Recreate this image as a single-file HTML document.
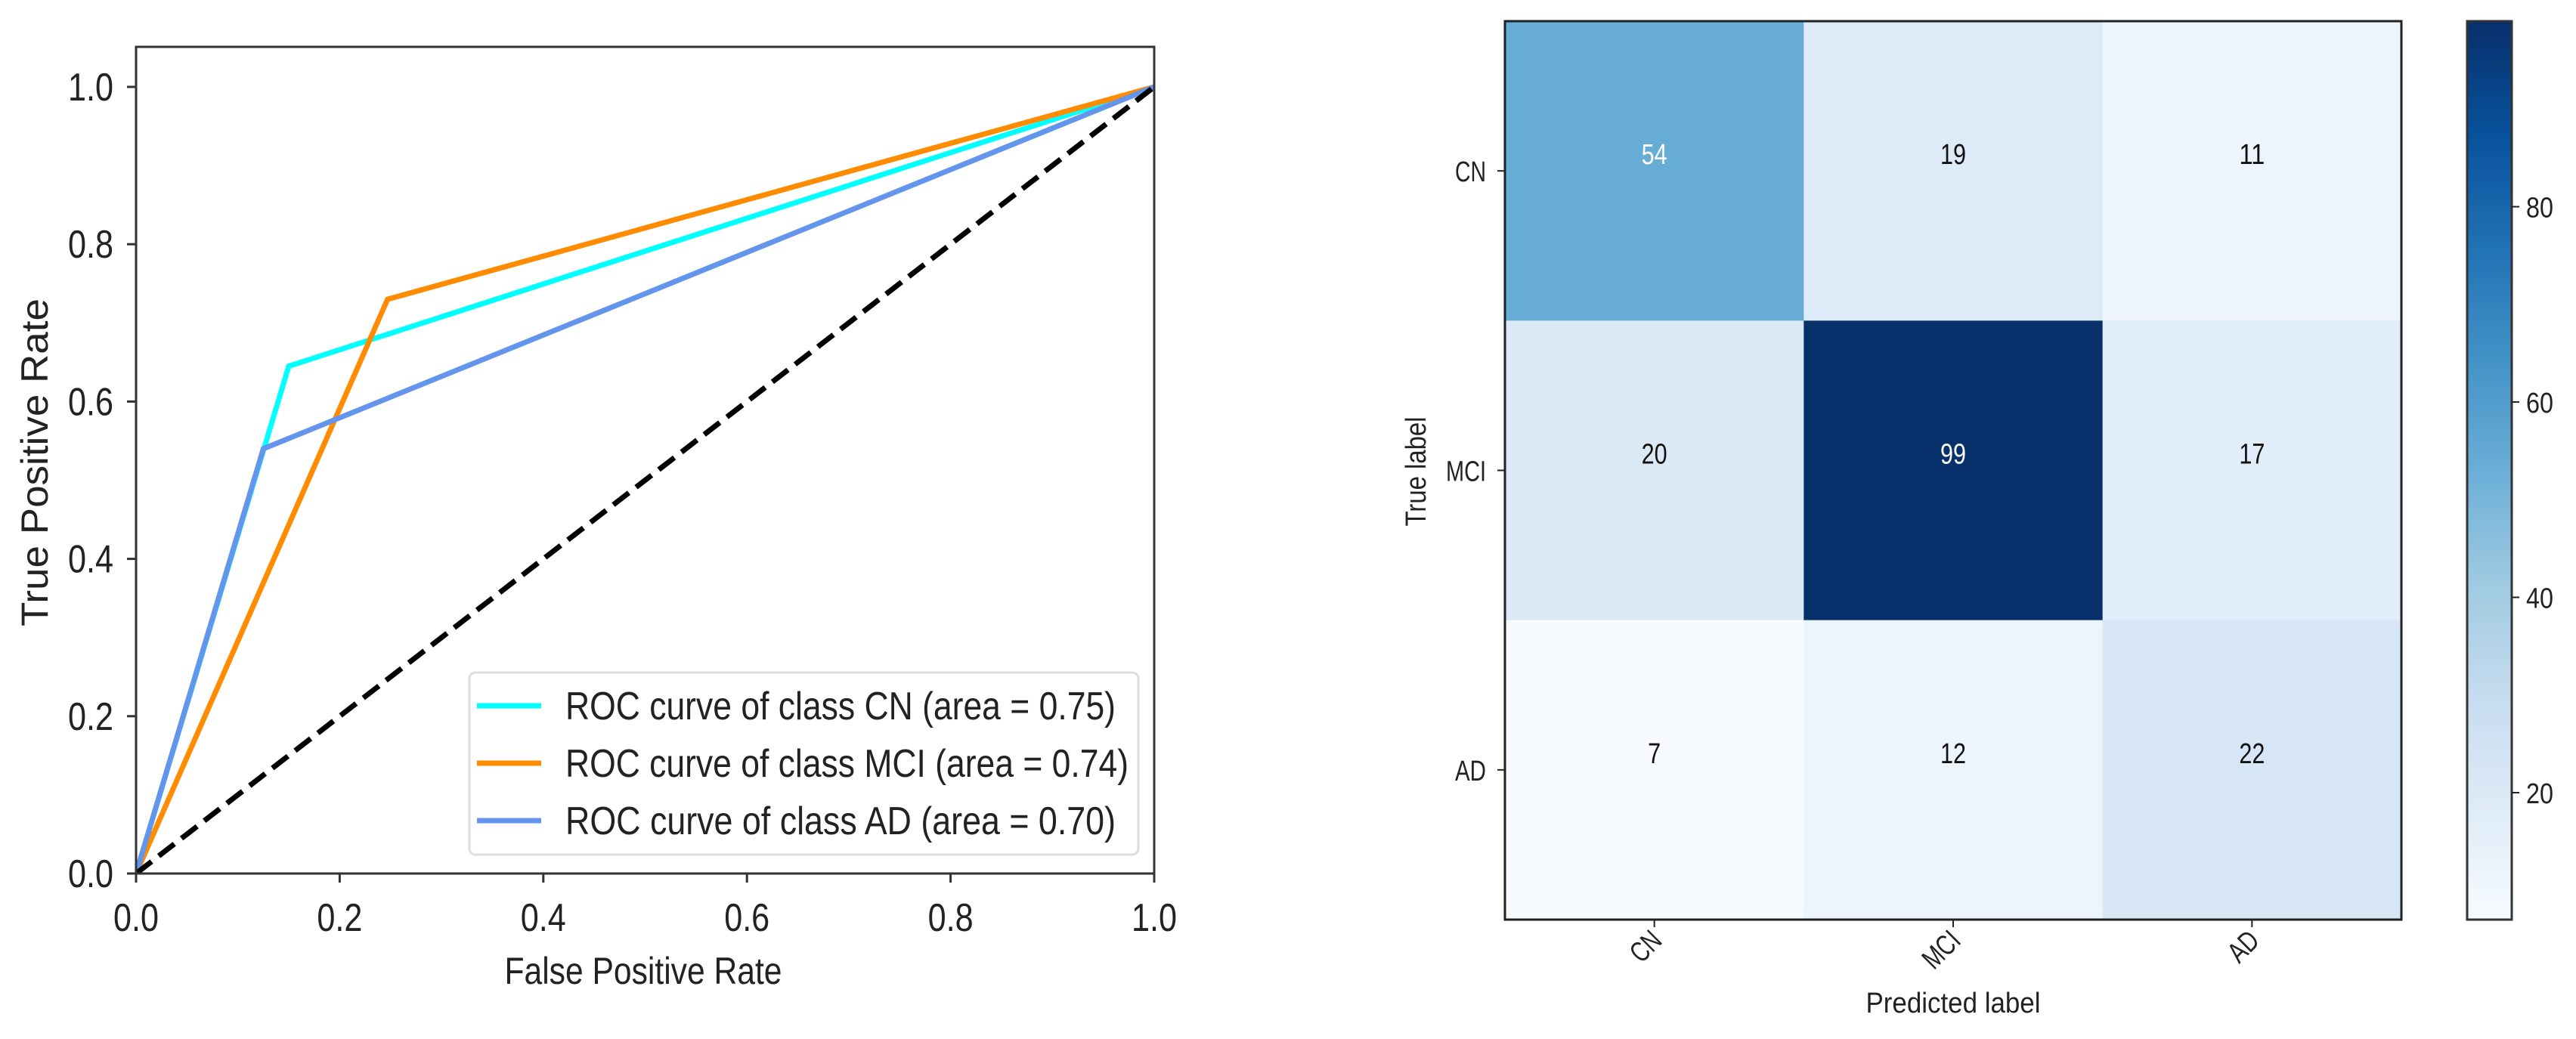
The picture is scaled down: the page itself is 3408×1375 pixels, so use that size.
<!DOCTYPE html>
<html><head><meta charset="utf-8"><style>
html,body{margin:0;padding:0;background:#fff;}
svg{display:block;font-family:"Liberation Sans",sans-serif;}
</style></head><body>
<svg id="fig" width="3408" height="1375" viewBox="0 0 3408 1375" xmlns="http://www.w3.org/2000/svg">
<defs>
<linearGradient id="blues" x1="0" y1="1" x2="0" y2="0">
<stop offset="0" stop-color="#f7fbff"/><stop offset="0.125" stop-color="#deebf7"/><stop offset="0.25" stop-color="#c6dbef"/><stop offset="0.375" stop-color="#9ecae1"/><stop offset="0.5" stop-color="#6baed6"/><stop offset="0.625" stop-color="#4292c6"/><stop offset="0.75" stop-color="#2171b5"/><stop offset="0.875" stop-color="#08519c"/><stop offset="1" stop-color="#08306b"/>
</linearGradient>
<clipPath id="rocclip"><rect x="180" y="62" width="1347" height="1094"/></clipPath>
</defs>
<g id="roc"></g>
<g id="cm"></g>
</svg>
<script>
const rocClasses = ["CN","MCI","AD"];
const rocAreas = ["0.75","0.74","0.70"];
const rocFpr = [[0,0.15,1],[0,0.247,1],[0,0.125,1]];
const rocTpr = [[0,0.645,1],[0,0.73,1],[0,0.54,1]];
const rocColors = ["#00ffff","#ff8c00","#6495ed"];
const rocTicks = [0,0.2,0.4,0.6,0.8,1.0];
const rocTickLabels = ["0.0","0.2","0.4","0.6","0.8","1.0"];

const cmLabels = ["CN","MCI","AD"];
const cmValues = [[54,19,11],[20,99,17],[7,12,22]];
const cbTicks = [20,40,60,80];

const NS="http://www.w3.org/2000/svg";
function mk(tag,attrs,parent){const e=document.createElementNS(NS,tag);for(const k in attrs)e.setAttribute(k,attrs[k]);parent.appendChild(e);return e;}

// ROC
const roc=document.getElementById('roc');
const X0=180,X1=1527,Y0=1156,YS=1041;
const sx=v=>X0+v*(X1-X0);
const sy=v=>Y0-v*YS;
const lineG=mk('g',{'clip-path':'url(#rocclip)'},roc);
rocClasses.forEach((c,i)=>{
  const pts=rocFpr[i].map((f,j)=>sx(f)+','+sy(rocTpr[i][j])).join(' ');
  const pl=mk('polyline',{points:pts,fill:'none',stroke:rocColors[i],'stroke-width':7},lineG);
  
  
});
const diag=mk('line',{x1:sx(0),y1:sy(0),x2:sx(1),y2:sy(1),stroke:'#000','stroke-width':7,'stroke-dasharray':'26,12'},lineG);


const frame=mk('rect',{x:X0,y:62,width:X1-X0,height:Y0-62,fill:'none',stroke:'#333','stroke-width':3},roc);


rocTicks.forEach((t,i)=>{
  mk('line',{x1:sx(t),y1:Y0,x2:sx(t),y2:Y0+12,stroke:'#333','stroke-width':3},roc);
  const xl=mk('text',{x:sx(t),y:1232,'font-size':52,'text-anchor':'middle',fill:'#222',textLength:60,lengthAdjust:'spacingAndGlyphs'},roc);
  xl.textContent=rocTickLabels[i];
  
  
  mk('line',{x1:X0-12,y1:sy(t),x2:X0,y2:sy(t),stroke:'#333','stroke-width':3},roc);
  const yl=mk('text',{x:150,y:sy(t)+18,'font-size':52,'text-anchor':'end',fill:'#222',textLength:60,lengthAdjust:'spacingAndGlyphs'},roc);
  yl.textContent=rocTickLabels[i];
  
  
});
const xt=mk('text',{x:851,y:1302,'font-size':50,'text-anchor':'middle',fill:'#222',textLength:367,lengthAdjust:'spacingAndGlyphs'},roc);
xt.textContent='False Positive Rate';


const yt=mk('text',{x:0,y:0,'font-size':50,'text-anchor':'middle',fill:'#222',textLength:434,lengthAdjust:'spacingAndGlyphs',transform:'translate(63,612) rotate(-90)'},roc);
yt.textContent='True Positive Rate';


const leg=mk('g',{},roc);


mk('rect',{x:621,y:890,width:885,height:241,rx:8,fill:'#fff','fill-opacity':0.85,stroke:'#ddd','stroke-width':3},leg);
rocClasses.forEach((c,i)=>{
  const y=934+i*76;
  const e=mk('g',{},leg);
  
  
  mk('line',{x1:631,y1:y,x2:716,y2:y,stroke:rocColors[i],'stroke-width':7},e);
  const t=mk('text',{x:748,y:y+18,'font-size':52,fill:'#222',lengthAdjust:'spacingAndGlyphs',textLength:c==='MCI'?745:728},e);
  t.textContent='ROC curve of class '+c+' (area = '+rocAreas[i]+')';
});

// Confusion matrix
const cm=document.getElementById('cm');
const L=1991,T=28,R=3177,B=1217;
const cw=(R-L)/3,ch=(B-T)/3;
const vmin=7,vmax=99;
const stops=["#f7fbff","#deebf7","#c6dbef","#9ecae1","#6baed6","#4292c6","#2171b5","#08519c","#08306b"];
function hex(h){return [1,3,5].map(i=>parseInt(h.substr(i,2),16));}
function blues(v){let t=(v-vmin)/(vmax-vmin);t=Math.max(0,Math.min(1,t));const p=t*8;const i=Math.min(7,Math.floor(p));const f=p-i;const a=hex(stops[i]),b=hex(stops[i+1]);return 'rgb('+a.map((x,k)=>Math.round(x+(b[k]-x)*f)).join(',')+')';}
cmValues.forEach((row,r)=>row.forEach((v,c)=>{
  const cell=mk('rect',{x:L+c*cw,y:T+r*ch,width:cw+0.5,height:ch+0.5,fill:blues(v)},cm);
  
  
}));
cmValues.forEach((row,r)=>row.forEach((v,c)=>{
  const s=String(v);
  const t=mk('text',{x:L+(c+0.5)*cw,y:T+(r+0.5)*ch-9,'font-size':38,'text-anchor':'middle',fill:v>vmax/2?'#fff':'#111',textLength:s.length*17,lengthAdjust:'spacingAndGlyphs'},cm);
  t.textContent=s;
  
  
}));
const cmf=mk('rect',{x:L,y:T,width:R-L,height:B-T,fill:'none',stroke:'#222','stroke-width':3},cm);


cmLabels.forEach((lab,i)=>{
  const cy=T+(i+0.5)*ch, cx=L+(i+0.5)*cw;
  const tl=lab==='MCI'?53:41;
  mk('line',{x1:L-10,y1:cy,x2:L,y2:cy,stroke:'#222','stroke-width':2},cm);
  const yl=mk('text',{x:1966,y:cy+14,'font-size':38,'text-anchor':'end',fill:'#222',textLength:tl,lengthAdjust:'spacingAndGlyphs'},cm);
  yl.textContent=lab;
  
  
  mk('line',{x1:cx,y1:B,x2:cx,y2:B+10,stroke:'#222','stroke-width':2},cm);
  const xl=mk('text',{x:0,y:0,'font-size':38,'text-anchor':'end',fill:'#222',textLength:tl,lengthAdjust:'spacingAndGlyphs',transform:'translate('+(cx+12)+','+(B+30)+') rotate(-45)'},cm);
  xl.textContent=lab;
  
  
});
const px=mk('text',{x:2584,y:1340,'font-size':38,'text-anchor':'middle',fill:'#222',textLength:231,lengthAdjust:'spacingAndGlyphs'},cm);
px.textContent='Predicted label';


const py=mk('text',{x:0,y:0,'font-size':38,'text-anchor':'middle',fill:'#222',textLength:145,lengthAdjust:'spacingAndGlyphs',transform:'translate(1886,624) rotate(-90)'},cm);
py.textContent='True label';


// colorbar
const CB0=3264,CB1=3323;
const cb=mk('rect',{x:CB0,y:T,width:CB1-CB0,height:B-T,fill:'url(#blues)',stroke:'#333','stroke-width':3},cm);


const cby=v=>B-(v-vmin)/(vmax-vmin)*(B-T);
cbTicks.forEach(t=>{
  mk('line',{x1:CB1,y1:cby(t),x2:CB1+10,y2:cby(t),stroke:'#222','stroke-width':2},cm);
  const l=mk('text',{x:3342,y:cby(t)+14,'font-size':38,fill:'#222',textLength:36,lengthAdjust:'spacingAndGlyphs'},cm);
  l.textContent=t;
  
  
});
</script>
</body></html>
